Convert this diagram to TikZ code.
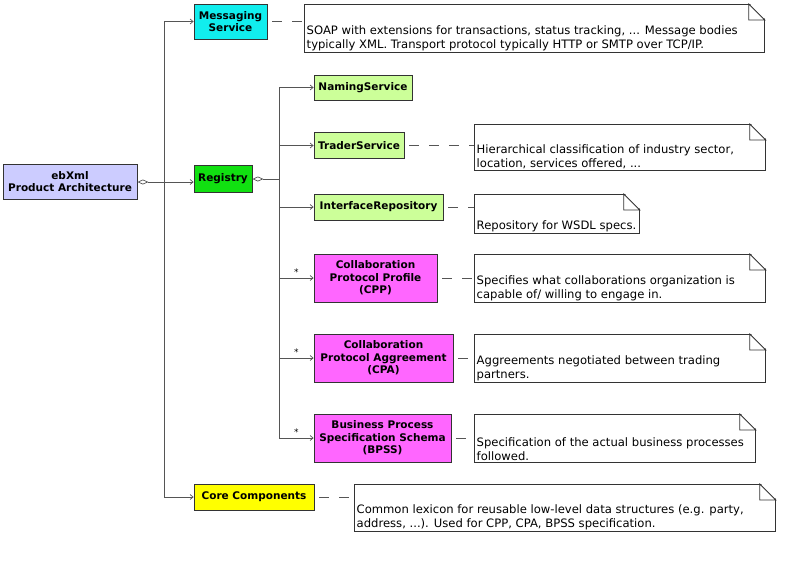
\documentclass[tikz,border=0pt]{standalone}
\usepackage{fontspec}
\setmainfont{DejaVu Sans}
\usetikzlibrary{arrows.meta}

\definecolor{archblue}{HTML}{CCCCFF}
\definecolor{msgcyan}{HTML}{11EEEE}
\definecolor{reggreen}{HTML}{11E011}
\definecolor{partgreen}{HTML}{CCFF99}
\definecolor{cppmagenta}{HTML}{FF66FF}
\definecolor{coreyellow}{HTML}{FFFF00}
\definecolor{boxline}{HTML}{333333}
\definecolor{linkgray}{HTML}{555555}

\tikzset{
	box/.style={draw=boxline, line width=0.8pt, inner sep=0pt, align=center,
		font=\bfseries\fontsize{10.5}{12.5}\selectfont},
	note/.style={draw=boxline, line width=0.8pt, fill=white, inner sep=0pt, anchor=north west},
	notetext/.style={anchor=south west, align=left, inner xsep=2.5pt, inner ysep=2pt,
		font=\fontsize{11.6}{14}\selectfont},
	link/.style={draw=linkgray, line width=0.7pt, -{Straight Barb[length=3pt,width=5pt]}},
	owner/.style={draw=linkgray, line width=0.7pt, {Diamond[open,length=11pt,width=5pt]}-},
	notelink/.style={draw=linkgray, line width=0.7pt, dash pattern=on 10pt off 10pt, dash phase=15pt},
	many/.style={pos=0.75, above=2pt, inner sep=0pt, font=\fontsize{9}{9}\selectfont}
}

\begin{document}
\begin{tikzpicture}[x=1pt,y=-1pt]
		\useasboundingbox (0,0) rectangle (800,560);

		% main parts
		\node[box, fill=archblue, minimum width=134pt, minimum height=35pt] (ebxml) at (70,181.5) {ebXml\\Product Architecture};
		\node[box, fill=msgcyan, minimum width=73pt, minimum height=35pt] (msg) at (230.5,21.5) {Messaging\\Service};
		\node[box, fill=reggreen, minimum width=58pt, minimum height=27pt] (registry) at (223,179) {Registry};
		\node[box, fill=coreyellow, minimum width=120pt, minimum height=26pt] (core) at (254,497) {Core Components};

		% registry parts
		\node[box, fill=partgreen, minimum width=98pt, minimum height=25pt] (naming) at (363,87.5) {NamingService};
		\node[box, fill=partgreen, minimum width=90pt, minimum height=26pt] (trader) at (359,145.5) {TraderService};
		\node[box, fill=partgreen, minimum width=129pt, minimum height=26pt] (iface) at (378.5,207) {InterfaceRepository};
		\node[box, fill=cppmagenta, minimum width=123pt, minimum height=48pt] (cpp) at (375.5,278) {Collaboration\\Protocol Profile\\(CPP)};
		\node[box, fill=cppmagenta, minimum width=139pt, minimum height=48pt] (cpa) at (383.5,358) {Collaboration\\Protocol Aggreement\\(CPA)};
		\node[box, fill=cppmagenta, minimum width=137pt, minimum height=48pt] (bpss) at (382.5,438) {Business Process\\Specification Schema\\(BPSS)};

		% notes
		\node[note, minimum width=460pt, minimum height=48pt] (msgnote) at (304,4) {};
		\node[note, minimum width=291pt, minimum height=46pt] (tradernote) at (474,124) {};
		\node[note, minimum width=165pt, minimum height=39pt] (ifacenote) at (474,194) {};
		\node[note, minimum width=291pt, minimum height=48pt] (cppnote) at (474,254) {};
		\node[note, minimum width=291pt, minimum height=48pt] (cpanote) at (474,334) {};
		\node[note, minimum width=281pt, minimum height=48pt] (bpssnote) at (474,414) {};
		\node[note, minimum width=421pt, minimum height=47pt] (corenote) at (354,484) {};

		\foreach \n in {msgnote,tradernote,ifacenote,cppnote,cpanote,bpssnote,corenote}{
			\fill[white] ([xshift=-15.6pt,yshift=1pt]\n.north east) -- ([xshift=1pt,yshift=1pt]\n.north east)
				-- ([xshift=1pt,yshift=-15.6pt]\n.north east) -- cycle;
			\draw[boxline, line width=0.8pt] ([xshift=-16pt]\n.north east) -- ([xshift=-16pt,yshift=-16pt]\n.north east)
				-- ([yshift=-16pt]\n.north east) -- cycle;
		}

		\node[notetext] (msgtext) at (msgnote.south west) {SOAP with extensions for transactions, status tracking, ... Message bodies\\typically XML. Transport protocol typically HTTP or SMTP over TCP/IP.};
		\node[notetext] (tradertext) at (tradernote.south west) {Hierarchical classification of industry sector,\\location, services offered, ...};
		\node[notetext] (ifacetext) at (ifacenote.south west) {Repository for WSDL specs.};
		\node[notetext] (cpptext) at (cppnote.south west) {Specifies what collaborations organization is\\capable of/ willing to engage in.};
		\node[notetext] (cpatext) at (cpanote.south west) {Aggreements negotiated between trading\\partners.};
		\node[notetext] (bpsstext) at (bpssnote.south west) {Specification of the actual business processes\\followed.};
		\node[notetext] (coretext) at (corenote.south west) {Common lexicon for reusable low-level data structures (e.g. party,\\address, ...). Used for CPP, CPA, BPSS specification.};

		% composition links
		\coordinate (archjoin) at (164,182);
		\coordinate (regjoin) at (279,179);
		\draw[owner] (ebxml.east |- archjoin) -- (archjoin);
		\draw[link] (archjoin) -- (archjoin -| registry.west);
		\draw[link] (archjoin) |- (msg.west);
		\draw[link] (archjoin) |- (core.west);

		\draw[owner] (registry.east) -- (regjoin);
		\draw[link] (regjoin) |- (naming.west);
		\draw[link] (regjoin) |- (trader.west);
		\draw[link] (regjoin) |- (iface.west);
		\draw[link] (regjoin) |- (cpp.west) node[many] {*};
		\draw[link] (regjoin) |- (cpa.west) node[many] {*};
		\draw[link] (regjoin) |- (bpss.west) node[many] {*};

		% note links
		\draw[notelink] (msg.east) -- (msg.east -| msgnote.west);
		\draw[notelink] (trader.east) -- (trader.east -| tradernote.west);
		\draw[notelink] (iface.east) -- (iface.east -| ifacenote.west);
		\draw[notelink] (cpp.east) -- (cpp.east -| cppnote.west);
		\draw[notelink] (cpa.east) -- (cpa.east -| cpanote.west);
		\draw[notelink] (bpss.east) -- (bpss.east -| bpssnote.west);
		\draw[notelink] (core.east) -- (core.east -| corenote.west);
	\end{tikzpicture}
\end{document}
